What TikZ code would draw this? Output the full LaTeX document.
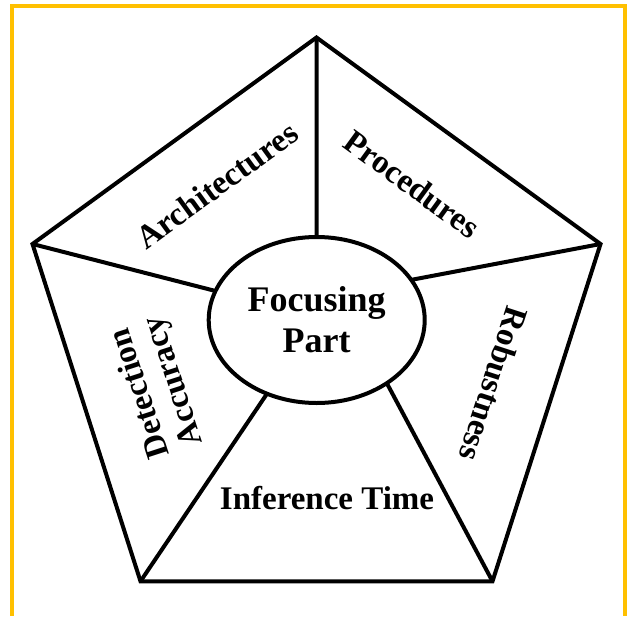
\documentclass[tikz,border=0pt]{standalone}
\usepackage{fontspec}
\setmainfont{Liberation Serif}
\usetikzlibrary{shapes.geometric}
\definecolor{framegold}{HTML}{FFC000}
\begin{document}
\begin{tikzpicture}[x=1pt,y=-1pt,
  edge/.style={line width=4pt, line join=miter, black},
  sectortext/.style={font=\bfseries\fontsize{33}{38}\selectfont, inner sep=0pt},
  hub/.style={ellipse, draw, line width=4pt, minimum width=216pt,
    minimum height=166pt, inner sep=0pt, outer sep=0pt, align=center,
    font=\bfseries\fontsize{36}{41.3}\selectfont}]
  \useasboundingbox (0,0) rectangle (631,616);

  % gold frame, open at the bottom
  \draw[line width=4pt, framegold, line join=miter]
    (11.7,616) -- (11.7,6) -- (624.7,6) -- (624.7,616);

  % pentagon corners
  \coordinate (T)  at (316.5,37.5);
  \coordinate (R)  at (600.5,244);
  \coordinate (BR) at (492.5,581.3);
  \coordinate (BL) at (140.5,581.3);
  \coordinate (L)  at (32.5,244);

  % central ellipse
  \node[hub] (F) at (316.7,320) {Focusing\\Part};

  % outline and spokes
  \draw[edge] (T) -- (R) -- (BR) -- (BL) -- (L) -- cycle;
  \draw[edge] (T)  -- (F.90);
  \draw[edge] (L)  -- (F.164);
  \draw[edge] (R)  -- (F.23);
  \draw[edge] (BL) -- (F.236);
  \draw[edge] (BR) -- (F.318);

  % sector labels
  \node[sectortext, rotate=36]   (arch) at (217,185) {Architectures};
  \node[sectortext, rotate=-36]  (proc) at (412,184) {Procedures};
  \node[sectortext, rotate=108]  (det)  at (138,394) {Detection};
  \node[sectortext, rotate=108]  (acc)  at (175,381) {Accuracy};
  \node[sectortext, rotate=-108] (rob)  at (494,384) {Robustness};
  \node[sectortext]              (inf)  at (327,498) {Inference Time};
\end{tikzpicture}
\end{document}
